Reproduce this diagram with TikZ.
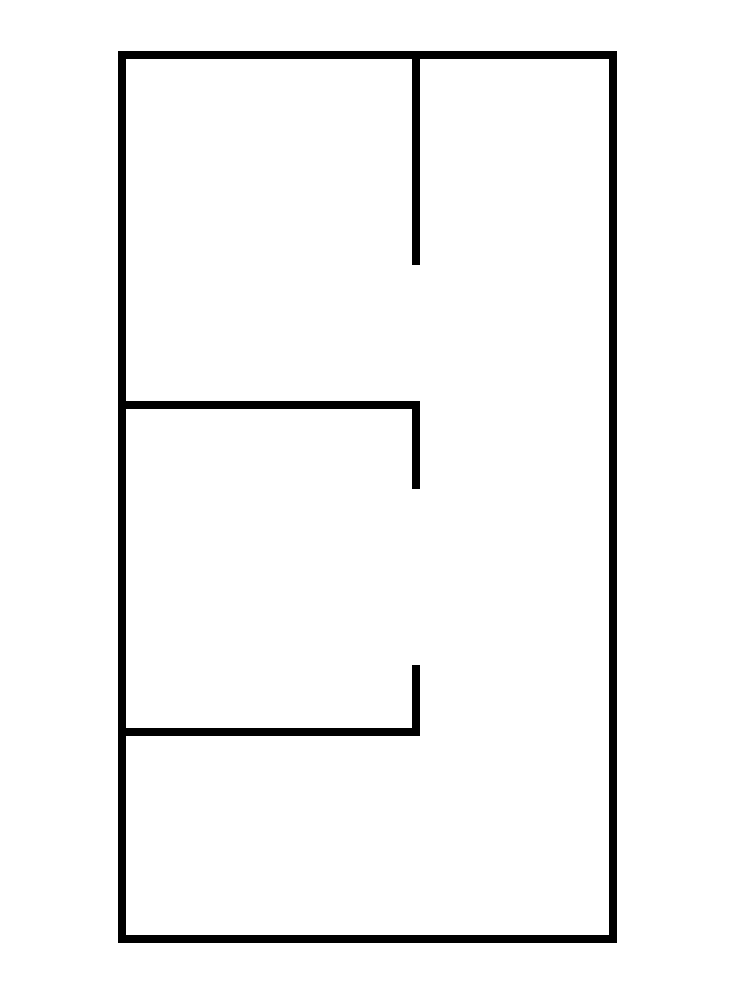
\documentclass[tikz,border=0pt]{standalone}
\begin{document}
\begin{tikzpicture}
  [x=0.02cm,y=-0.02cm,wall/.style={draw=black,line width=0.16cm,line join=miter}]
  \useasboundingbox (0,0) rectangle (750,999);
  % outer walls
  \draw[wall] (122,55) rectangle (613,939);
  % inner walls
  \draw[wall] (416,55) -- (416,265);
  \draw[wall] (122,405) -- (416,405) -- (416,489);
  \draw[wall] (122,732) -- (416,732) -- (416,665);
\end{tikzpicture}
\end{document}
